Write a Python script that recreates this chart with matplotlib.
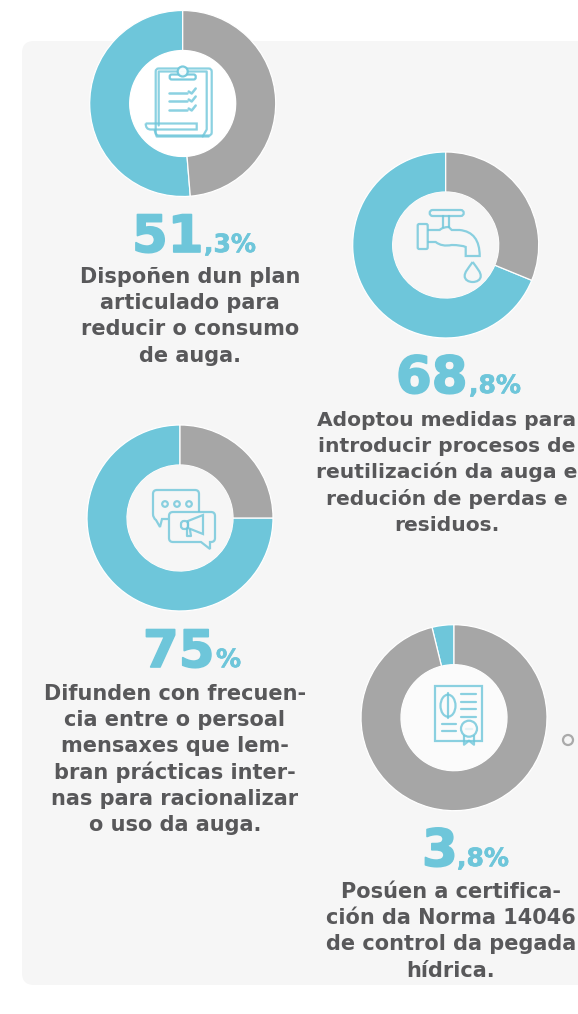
import matplotlib
matplotlib.use("Agg")
import matplotlib.pyplot as plt
import matplotlib.patheffects as pe
from matplotlib.font_manager import FontProperties
from matplotlib.patches import FancyBboxPatch, Circle, Ellipse, Rectangle, PathPatch, Polygon
from matplotlib.path import Path
from matplotlib.transforms import Affine2D

W, H = 578, 1014
BLUE = "#6ec6da"
GRAY = "#a6a6a6"
CARD = "#f6f6f6"
TEXT = "#58585a"

# values
values = [51.3, 68.8, 75, 3.8]
big_labels = ["51", "68", "75", "3"]
small_labels = [",3%", ",8%", "%", ",8%"]
captions = [
    ["Dispoñen dun plan", "articulado para", "reducir o consumo", "de auga."],
    ["Adoptou medidas para", "introducir procesos de", "reutilización da auga e", "redución de perdas e", "residuos."],
    ["Difunden con frecuen-", "cia entre o persoal", "mensaxes que lem-", "bran prácticas inter-", "nas para racionalizar", "o uso da auga."],
    ["Posúen a certifica-", "ción da Norma 14046", "de control da pegada", "hídrica."],
]

# layout in pixels, y measured from the top
centers = [(182.7, 103.5), (445.7, 245), (180, 518), (454, 717.7)]
holes = ["#ffffff", CARD, CARD, "#fbfbfb"]
big_pos = [(132, 252), (396, 393), (143, 667), (422, 866)]
small_x = [204, 469, 216, 457]
caption_x = [190, 447, 175, 451]
caption_y = [283, 426, 700, 898]
caption_size = [15, 14.6, 15, 15]
LINE_STEP = 26.2
R = 93
HOLE = 53

bold = FontProperties(family="DejaVu Sans", weight="bold")


def py(y):
    return H - y


fig = plt.figure(figsize=(W / 100, H / 100), dpi=100, facecolor="white")
ax = fig.add_axes([0, 0, 1, 1])

card = FancyBboxPatch((32, py(985) + 10), W + 40, 985 - 41 - 20, boxstyle="round,pad=10,rounding_size=12",
                      fc=CARD, ec="none", zorder=0)
ax.add_patch(card)

for i, v in enumerate(values):
    cx, cy = centers[i]
    ax.pie([v, 100 - v], colors=[BLUE, GRAY], startangle=90, radius=R, center=(cx, py(cy)),
           wedgeprops=dict(width=R - HOLE, edgecolor="white", linewidth=0.9))
    ax.add_patch(Circle((cx, py(cy)), HOLE, fc=holes[i], ec="none", zorder=3))
    t = ax.text(big_pos[i][0], py(big_pos[i][1]), big_labels[i], color=BLUE, fontproperties=bold, fontsize=37,
                ha="left", va="baseline")
    t.set_path_effects([pe.withStroke(linewidth=1.2, foreground=BLUE)])
    t = ax.text(small_x[i], py(big_pos[i][1]), small_labels[i], color=BLUE, fontproperties=bold, fontsize=18,
                ha="left", va="baseline")
    t.set_path_effects([pe.withStroke(linewidth=0.5, foreground=BLUE)])
    for j, line in enumerate(captions[i]):
        ax.text(caption_x[i], py(caption_y[i] + j * LINE_STEP), line, color=TEXT, fontproperties=bold,
                fontsize=caption_size[i], ha="center", va="baseline")


def icon_tools(center):
    # offsets are in pixels from the donut centre, y going down
    tr = Affine2D().scale(1, -1).translate(center[0], py(center[1])) + ax.transData
    style = dict(color=BLUE, lw=1.6, alpha=0.8, zorder=5, transform=tr, solid_capstyle="round")
    patch_style = dict(ec=BLUE, fc="none", lw=1.6, alpha=0.8, zorder=5, transform=tr)
    return tr, style, patch_style


def curve(verts, codes, patch_style):
    ax.add_patch(PathPatch(Path(verts, codes), **patch_style))


# clipboard
tr, st, ps = icon_tools(centers[0])
ax.add_patch(FancyBboxPatch((-27, -35), 56, 67, boxstyle="round,pad=0,rounding_size=3", **ps))
ax.plot([-24, -24, 24, 24, 20], [22, -32, -32, 26, 33], **st)
ax.add_patch(FancyBboxPatch((-13, -29), 26, 5, boxstyle="round,pad=0,rounding_size=2", fc="white", ec=BLUE,
                            lw=1.6, alpha=0.9, zorder=6, transform=tr))
ax.add_patch(Circle((0, -32), 5, fc="white", ec=BLUE, lw=1.6, alpha=0.9, zorder=6, transform=tr))
for dy in (-11, -3, 6):
    ax.plot([-14, 4], [dy, dy], **{**st, "lw": 1.8})
    ax.plot([6, 9, 13], [dy - 1, dy + 1, dy - 4], **{**st, "lw": 1.8})
curve([(-37, 20), (14, 20), (14, 26), (-32, 26), (-37, 26), (-37, 20)],
      [Path.MOVETO, Path.LINETO, Path.LINETO, Path.LINETO, Path.CURVE3, Path.CURVE3], ps)
ax.plot([-28, -26, 26], [27, 33, 33], **st)

# tap
tr, st, ps = icon_tools(centers[1])
ax.add_patch(FancyBboxPatch((-16, -35), 34, 6, boxstyle="round,pad=0,rounding_size=3", **ps))
ax.plot([-3, -3], [-29, -18], **st)
ax.plot([3, 3], [-29, -18], **st)
ax.add_patch(FancyBboxPatch((-28, -21), 10, 25, boxstyle="round,pad=0,rounding_size=1.5", **ps))
curve([(-18, -15), (-6, -15), (-3, -18), (3, -18), (6, -15), (14, -15), (34, -13), (34, 11), (20, 11), (20, 2),
       (16, 0), (6, 0), (-4, 2), (-10, -3), (-18, -3)],
      [Path.MOVETO, Path.LINETO, Path.CURVE3, Path.CURVE3, Path.LINETO, Path.LINETO, Path.CURVE3, Path.CURVE3,
       Path.LINETO, Path.LINETO, Path.CURVE3, Path.CURVE3, Path.CURVE3, Path.CURVE3, Path.LINETO], ps)
# drop
curve([(27, 17), (22, 24), (19, 27), (19, 31), (19, 35), (23, 37), (27, 37), (31, 37), (35, 35), (35, 31),
       (35, 27), (32, 24), (27, 17)],
      [Path.MOVETO] + [Path.CURVE4] * 12, ps)

# chat bubbles
tr, st, ps = icon_tools(centers[2])
curve([(-12, 1), (-18, 1), (-20, 9), (-24, 2), (-27, 0), (-27, -4), (-27, -24), (-27, -28), (-23, -28), (15, -28),
       (19, -28), (19, -24), (19, -6)],
      [Path.MOVETO, Path.LINETO, Path.LINETO, Path.LINETO, Path.CURVE3, Path.CURVE3, Path.LINETO, Path.CURVE3,
       Path.CURVE3, Path.LINETO, Path.CURVE3, Path.CURVE3, Path.LINETO], ps)
for dx in (-15, -3, 9):
    ax.add_patch(Circle((dx, -14), 2.8, **ps))
curve([(-11, -2), (-11, -6), (-7, -6), (31, -6), (35, -6), (35, -2), (35, 20), (35, 24), (31, 24), (30, 24), (30, 31),
       (21, 24), (-7, 24), (-11, 24), (-11, 20), (-11, -2)],
      [Path.MOVETO, Path.CURVE3, Path.CURVE3, Path.LINETO, Path.CURVE3, Path.CURVE3, Path.LINETO, Path.CURVE3,
       Path.CURVE3, Path.LINETO, Path.LINETO, Path.LINETO, Path.LINETO, Path.CURVE3, Path.CURVE3, Path.LINETO], ps)
ax.add_patch(Polygon([(8, 3), (23, -3), (23, 16), (8, 10)], closed=True, **ps))
ax.add_patch(FancyBboxPatch((1, 3), 7, 8, boxstyle="round,pad=0,rounding_size=3", **ps))
ax.plot([7, 7, 11, 10], [11, 18, 18, 12], **st)

# certificate
tr, st, ps = icon_tools(centers[3])
ax.add_patch(Rectangle((-19, -32), 47, 55, **ps))
ax.add_patch(Ellipse((-6, -12), 15, 22, **ps))
ax.plot([-6, -6], [-25, 0], **st)
for dy in (-24, -16, -9, -1):
    ax.plot([7, 22], [dy, dy], **st)
for dy in (6, 13):
    ax.plot([-12, 2], [dy, dy], **st)
ax.add_patch(Circle((15, 11), 8, fc=holes[3], ec=BLUE, lw=1.6, alpha=0.8, zorder=6, transform=tr))
ax.plot([12, 18], [11, 11], **st)
ax.plot([10, 10, 15, 20, 20], [18, 27, 23, 27, 18], **st)

# small ring at the right edge
ax.add_patch(Circle((568, py(740)), 5, fc="none", ec="#aaaaaa", lw=1.6, zorder=5))

ax.set_xlim(0, W)
ax.set_ylim(0, H)
ax.set_aspect("auto")
ax.axis("off")
fig.savefig("out.png", dpi=100, facecolor="white")
